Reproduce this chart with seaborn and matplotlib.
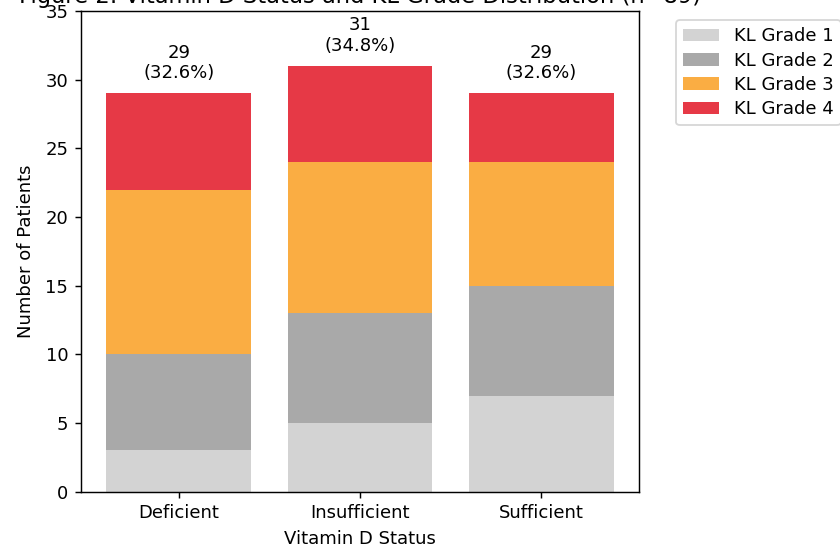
import matplotlib
matplotlib.use("Agg")
import matplotlib.pyplot as plt
from matplotlib.patches import Patch
import pandas as pd
import seaborn as sns

# data
status = ["Deficient", "Insufficient", "Sufficient"]
grades = ["KL Grade 1", "KL Grade 2", "KL Grade 3", "KL Grade 4"]
grade1 = [3, 5, 7]
grade2 = [7, 8, 8]
grade3 = [12, 11, 9]
grade4 = [7, 7, 5]
colors = ["#d3d3d3", "#a9a9a9", "#faad43", "#e63946"]

df = pd.DataFrame({"status": status, grades[0]: grade1, grades[1]: grade2,
                   grades[2]: grade3, grades[3]: grade4})
cum = df[grades].cumsum(axis=1)
totals = cum[grades[-1]]
n_total = totals.sum()

DPI = 130
fig = plt.figure(figsize=(840 / DPI, 546 / DPI), dpi=DPI)
ax = fig.add_axes([0.0964, 0.0995, 0.6643, 0.8804])

# stacked bars: draw cumulative heights from top grade down
for g, c in zip(reversed(grades), reversed(colors)):
    sns.barplot(x=df["status"], y=cum[g], color=c, saturation=1,
                errorbar=None, width=0.8, ax=ax)

for i, t in enumerate(totals):
    ax.text(i, t + 0.8, f"{t}\n({t / n_total * 100:.1f}%)",
            ha="center", va="bottom", fontsize=10)

ax.set_xlim(-0.54, 2.54)
ax.set_ylim(0, 35)
ax.set_yticks(range(0, 36, 5))
ax.set_xlabel("Vitamin D Status", fontsize=10)
ax.set_ylabel("Number of Patients", fontsize=10, labelpad=6)
ax.set_title(f"Figure 2: Vitamin D Status and KL Grade Distribution (n={n_total})",
             fontsize=12.5, pad=4.6)

handles = [Patch(facecolor=c, label=g) for g, c in zip(grades, colors)]
ax.legend(handles=handles, bbox_to_anchor=(1.05, 1), loc="upper left",
          fontsize=10, labelspacing=0.35)

fig.savefig("out.png", dpi=DPI)
